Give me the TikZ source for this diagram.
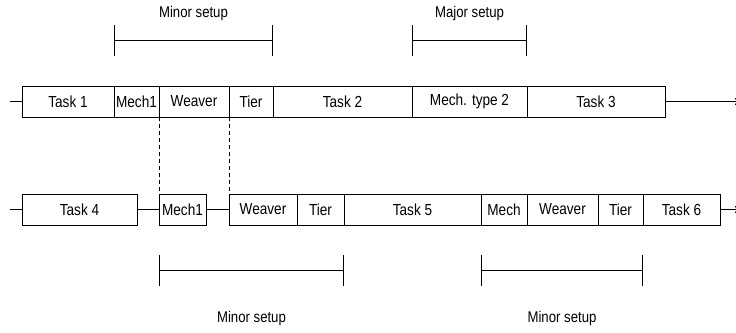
\documentclass[tikz,border=0pt]{standalone}
\usepackage{fontspec}
\setmainfont{Liberation Sans}[FakeStretch=0.85]
\usetikzlibrary{arrows.meta,calc}
\begin{document}
\begin{tikzpicture}[x=1pt,y=-1pt, line width=0.8pt,
  seg/.style={draw, minimum height=31pt, inner sep=0pt, outer sep=0pt, anchor=west, font=\fontsize{16}{18}\selectfont},
  lbl/.style={font=\fontsize{15.5}{18}\selectfont, inner sep=0pt},
  span/.style={{Bar[width=31pt]}-{Bar[width=31pt]}},
  guide/.style={dash pattern=on 4pt off 3pt},
  flow/.style={-{To[length=4pt,width=7pt]}}
]
\useasboundingbox (0,0) rectangle (736,332);
% row 1
\node[seg, minimum width=92pt]  (t1)  at (22,101.5) {Task 1};
\node[seg, minimum width=45pt]  (m1)  at (t1.east) {Mech1};
\node[seg, minimum width=70pt]  (w1)  at (m1.east) {Weaver};
\node[seg, minimum width=44pt]  (tr1) at (w1.east) {Tier};
\node[seg, minimum width=139pt] (t2)  at (tr1.east) {Task 2};
\node[seg, minimum width=115pt] (mt2) at (t2.east) {Mech. type 2};
\node[seg, minimum width=138pt] (t3)  at (mt2.east) {Task 3};
\coordinate (s1) at (10,101.5);
\coordinate (e1) at (739,101.5);
\draw (s1) -- (t1.west);
\draw[flow] (t3.east) -- (e1);
% row 2
\node[seg, minimum width=115pt] (t4)  at (22,209.5) {Task 4};
\node[seg, minimum width=47pt]  (m2)  at (159,209.5) {Mech1};
\node[seg, minimum width=68pt]  (w2)  at (229,209.5) {Weaver};
\node[seg, minimum width=47pt]  (tr2) at (w2.east) {Tier};
\node[seg, minimum width=137pt] (t5)  at (tr2.east) {Task 5};
\node[seg, minimum width=46pt]  (mc)  at (t5.east) {Mech};
\node[seg, minimum width=71pt]  (w3)  at (mc.east) {Weaver};
\node[seg, minimum width=45pt]  (tr3) at (w3.east) {Tier};
\node[seg, minimum width=77pt]  (t6)  at (tr3.east) {Task 6};
\coordinate (s2) at (10,209.5);
\coordinate (e2) at (739,209.5);
\draw (s2) -- (t4.west);
\draw (t4.east) -- (m2.west);
\draw (m2.east) -- (w2.west);
\draw[flow] (t6.east) -- (e2);
% dashed guides
\draw[guide] (w1.south west) -- (m2.north west);
\draw[guide] (tr1.south west) -- (w2.north west);
% top brackets
\coordinate (ty) at (0,40.5);
\coordinate (b1a) at (m1.west |- ty);
\coordinate (b1b) at (tr1.east |- ty);
\coordinate (b2a) at (mt2.west |- ty);
\coordinate (b2b) at (mt2.east |- ty);
\draw[span] (b1a) -- (b1b);
\draw[span] (b2a) -- (b2b);
\node[lbl] (l1) at ($(b1a)!0.5!(b1b)+(0,-27)$) {Minor setup};
\node[lbl] (l2) at ($(b2a)!0.5!(b2b)+(0,-27)$) {Major setup};
% bottom brackets
\coordinate (by) at (0,270.5);
\coordinate (b3a) at (m2.west |- by);
\coordinate (b3b) at (tr2.east |- by);
\coordinate (b4a) at (mc.west |- by);
\coordinate (b4b) at (tr3.east |- by);
\draw[span] (b3a) -- (b3b);
\draw[span] (b4a) -- (b4b);
\node[lbl] (l3) at ($(b3a)!0.5!(b3b)+(0,48)$) {Minor setup};
\node[lbl] (l4) at ($(b4a)!0.5!(b4b)+(0,48)$) {Minor setup};
\end{tikzpicture}
\end{document}
